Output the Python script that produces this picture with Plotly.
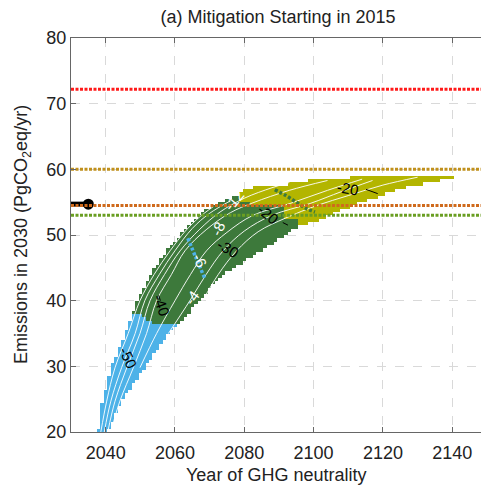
import numpy as np
import plotly.graph_objects as go

# ---- feasible region: per-year upper / lower bounds of 2030 emissions ----
YEARS = list(range(2037, 2142))
E_TOP = [17.0, 20.7, 24.3, 26.6, 28.6, 30.4, 31.7, 33.0, 34.2, 35.6,
         37.1, 38.6, 39.8, 41.0, 42.2, 43.2, 44.0, 44.8, 45.6, 46.4,
         47.1, 47.8, 48.5, 49.1, 49.7, 50.3, 50.9, 51.5, 51.9, 52.4,
         52.9, 53.3, 53.8, 54.1, 54.4, 54.7, 55.0, 55.2, 55.4, 55.6,
         55.8, 56.0, 56.6, 57.1, 57.2, 57.2, 57.3, 57.3, 57.4, 57.4,
         57.5, 57.5, 57.6, 57.6, 57.7, 57.7, 57.8, 57.8, 57.9, 57.9,
         58.1, 58.2, 58.3, 58.3, 58.4, 58.4, 58.5, 58.5, 58.5, 58.6,
         58.6, 58.7, 58.7, 58.7, 58.8, 58.8, 58.8, 58.9, 58.9, 58.9,
         59.0, 59.0, 59.0, 59.1, 59.1, 59.1, 59.1, 59.1, 59.1, 59.1,
         59.1, 59.1, 59.1, 59.1, 59.1, 59.1, 59.1, 59.1, 59.1, 59.1,
         59.1, 59.1, 59.1, 59.1, 59.1]
E_BOT = [15.0, 15.0, 17.0, 19.2, 20.4, 21.6, 22.8, 24.0, 25.0, 25.8,
         26.6, 27.3, 28.1, 28.8, 29.6, 30.3, 31.1, 31.9, 32.7, 33.4,
         34.2, 35.0, 35.5, 36.0, 36.5, 37.0, 37.6, 38.2, 38.8, 39.4,
         40.0, 40.6, 41.2, 41.8, 42.4, 43.0, 43.4, 43.9, 44.3, 44.7,
         45.0, 45.3, 45.6, 46.0, 46.3, 46.7, 47.0, 47.3, 47.7, 48.0,
         48.3, 48.7, 49.0, 49.4, 49.7, 50.1, 50.4, 50.8, 51.1, 51.5,
         51.6, 51.7, 51.8, 52.0, 52.2, 52.4, 52.6, 52.9, 53.1, 53.3,
         53.6, 53.8, 54.0, 54.2, 54.4, 54.6, 54.8, 54.9, 55.1, 55.3,
         55.5, 55.7, 55.9, 56.1, 56.3, 56.5, 56.7, 56.9, 57.1, 57.2,
         57.3, 57.4, 57.5, 57.6, 57.7, 57.8, 57.9, 58.0, 58.1, 58.2,
         58.4, 58.5, 58.6, 58.7, 58.8]

# category limits: (first year, threshold)
BLUE_BELOW = [(2037, 38.0), (2051, 37.6), (2052, 37.2), (2053, 36.8), (2054, 36.5)]
OLIVE_ABOVE = [(2079, 55.0), (2082, 54.3), (2092, 52.5), (2096, 0.0)]
E_CELLS = np.arange(20.25, 60.0, 0.5)

# reference emission levels
REF_LEVELS = [72.2, 60.0, 54.5, 53.0]
REF_COLORS = ["#ff1a1a", "#c0901c", "#cf6a1c", "#6a9e22"]

# historical marker
HIST_YEARS = [2030, 2035]
HIST_E = [54.7, 54.7]

# white contour lines
WHITE_LINES = [
    ([2038.6, 2040.3, 2042.7, 2046.5, 2049.9, 2054.0, 2058.6, 2063.0, 2067.0, 2071.0],
     [20.0, 24.7, 29.8, 35.0, 40.0, 44.0, 47.6, 50.6, 52.7, 54.3]),
    ([2039.6, 2041.5, 2044.6, 2048.5, 2051.3, 2055.5, 2060.0, 2065.0, 2070.0, 2076.0],
     [20.0, 24.7, 29.8, 35.0, 40.0, 44.0, 47.6, 51.0, 53.3, 55.2]),
    ([2040.6, 2042.7, 2046.1, 2049.9, 2052.8, 2057.0, 2061.5, 2067.0, 2073.0, 2080.0, 2088.0, 2093.0],
     [20.0, 24.7, 29.8, 35.0, 40.0, 44.0, 47.6, 50.8, 53.5, 55.6, 57.2, 58.0]),
    ([2041.5, 2044.1, 2048.0, 2051.8, 2054.7, 2059.0, 2062.9, 2069.0, 2076.0, 2082.5, 2093.0, 2104.0],
     [20.0, 24.7, 29.8, 35.0, 40.0, 44.0, 47.6, 50.8, 53.4, 54.9, 56.8, 58.3]),
    ([2049.9, 2054.7, 2060.0, 2064.5, 2069.1, 2075.0, 2082.5, 2093.2, 2104.0, 2114.0],
     [29.8, 35.0, 40.0, 44.0, 47.6, 50.4, 53.0, 54.8, 56.8, 58.5]),
    ([2058.1, 2064.3, 2069.0, 2073.9, 2080.0, 2088.0, 2099.0, 2108.0, 2117.0],
     [35.0, 40.0, 44.0, 47.6, 50.6, 53.0, 54.8, 56.6, 58.3]),
    ([2068.0, 2072.5, 2077.8, 2084.0, 2092.0, 2101.0, 2110.0, 2120.0, 2130.0],
     [40.0, 44.0, 47.6, 50.5, 52.6, 54.5, 56.0, 57.6, 58.8]),
]

# dotted highlighted contours
BLUE_DOT_X = [2063.7, 2066.0, 2068.6]
BLUE_DOT_E = [49.5, 46.6, 43.4]
GREEN_DOT_X = [2088.8, 2092.0, 2095.0, 2098.0, 2100.4]
GREEN_DOT_E = [56.9, 56.0, 55.0, 54.0, 53.5]

# short black contour pieces
BLACK_SEGS = [
    ([2115.1, 2118.5], [56.95, 56.3]),
    ([2091.1, 2092.6], [51.9, 51.5]),
    ([2055.3, 2055.8], [40.8, 40.0]),
]

# contour labels: text, year, emissions, angle, colour
LABELS = [
    ("-50", 2046.4, 31.3, 65, "black"),
    ("-40", 2056.2, 39.3, 70, "black"),
    ("-4", 2064.9, 40.5, -55, "white"),
    ("-6", 2067.2, 46.1, 65, "white"),
    ("-8", 2072.4, 51.0, -65, "white"),
    ("-30", 2075.3, 47.9, 30, "black"),
    ("-12", 2076.9, 55.3, -50, "white"),
    ("-20", 2086.9, 53.1, 40, "black"),
    ("-20", 2110.0, 57.1, 10, "black"),
]

X_RANGE = [2030, 2148.3]
Y_RANGE = [20, 80]

BLUE = "#4db2e8"
GREEN = "#3d793b"
OLIVE = "#b3b500"
FONT = "Liberation Sans, Arial, sans-serif"


def step_lookup(table, year):
    val = table[0][1]
    for y0, v in table:
        if year >= y0:
            val = v
    return val


z = np.full((len(E_CELLS), len(YEARS)), np.nan)
for j, yr in enumerate(YEARS):
    for i, e in enumerate(E_CELLS):
        if E_BOT[j] <= e <= E_TOP[j]:
            if e < step_lookup(BLUE_BELOW, yr):
                z[i, j] = 1
            elif yr >= OLIVE_ABOVE[0][0] and e > step_lookup(OLIVE_ABOVE, yr):
                z[i, j] = 3
            else:
                z[i, j] = 2

fig = go.Figure()
fig.add_trace(go.Heatmap(
    x=YEARS, y=E_CELLS, z=z, zmin=1, zmax=3, showscale=False, hoverinfo="skip",
    colorscale=[[0, BLUE], [0.25, BLUE], [0.25, GREEN], [0.75, GREEN],
                [0.75, OLIVE], [1, OLIVE]],
))

for xs, es in WHITE_LINES:
    fig.add_trace(go.Scatter(x=xs, y=es, mode="lines", showlegend=False,
                             line=dict(color="rgba(255,255,255,0.9)", width=1, shape="spline")))

for xs, es in BLACK_SEGS:
    fig.add_trace(go.Scatter(x=xs, y=es, mode="lines", showlegend=False,
                             line=dict(color="black", width=1)))

fig.add_trace(go.Scatter(x=BLUE_DOT_X, y=BLUE_DOT_E, mode="lines", showlegend=False,
                         line=dict(color="#4db2e8", width=3.5, dash="3px,2px", shape="spline")))
fig.add_trace(go.Scatter(x=GREEN_DOT_X, y=GREEN_DOT_E, mode="lines", showlegend=False,
                         line=dict(color="#3d793b", width=3.5, dash="3px,2px", shape="spline")))

# historical segment with end marker
fig.add_trace(go.Scatter(x=HIST_YEARS, y=HIST_E, mode="lines", showlegend=False,
                         line=dict(color="black", width=5)))
fig.add_trace(go.Scatter(x=HIST_YEARS[-1:], y=HIST_E[-1:], mode="markers", showlegend=False,
                         marker=dict(color="black", size=11)))

for lvl, col in zip(REF_LEVELS, REF_COLORS):
    fig.add_trace(go.Scatter(x=X_RANGE, y=[lvl, lvl], mode="lines", showlegend=False,
                             line=dict(color=col, width=3, dash="3px,1.5px")))

for text, xv, ev, ang, col in LABELS:
    fig.add_annotation(x=xv, y=ev, text=text, showarrow=False, textangle=ang,
                       font=dict(family=FONT, size=15, color=col))

fig.add_annotation(xref="paper", yref="paper", x=-49 / 410, y=0.5,
                   text="Emissions in 2030 (PgCO<sub>2</sub>eq/yr)",
                   textangle=-90, showarrow=False, xanchor="center", yanchor="middle",
                   font=dict(family=FONT, size=18, color="#222"))
fig.add_annotation(xref="paper", yref="paper", x=0.5, y=-43 / 394, text="Year of GHG neutrality",
                   showarrow=False, xanchor="center", yanchor="middle",
                   font=dict(family=FONT, size=18, color="#222"))

axis_common = dict(showgrid=True, gridcolor="#d9d9d9", griddash="dash", gridwidth=1,
                   zeroline=False, showline=True, linecolor="#666", linewidth=1,
                   ticks="inside", ticklen=5, tickcolor="#666",
                   tickfont=dict(family=FONT, size=18, color="#222"))

fig.update_layout(
    width=481, height=486,
    margin=dict(l=71, r=0, t=38, b=54),
    paper_bgcolor="white", plot_bgcolor="white",
    title=dict(text="(a) Mitigation Starting in 2015", x=278 / 481, xanchor="center",
               y=1 - 17 / 486, yanchor="middle", font=dict(family=FONT, size=18, color="#222")),
    xaxis=dict(range=X_RANGE, tickvals=[2040, 2060, 2080, 2100, 2120, 2140],
               mirror="ticks", ticklabelstandoff=4, **axis_common),
    yaxis=dict(range=Y_RANGE, tickvals=[20, 30, 40, 50, 60, 70, 80], **axis_common),
)

fig.write_html("out.html")
